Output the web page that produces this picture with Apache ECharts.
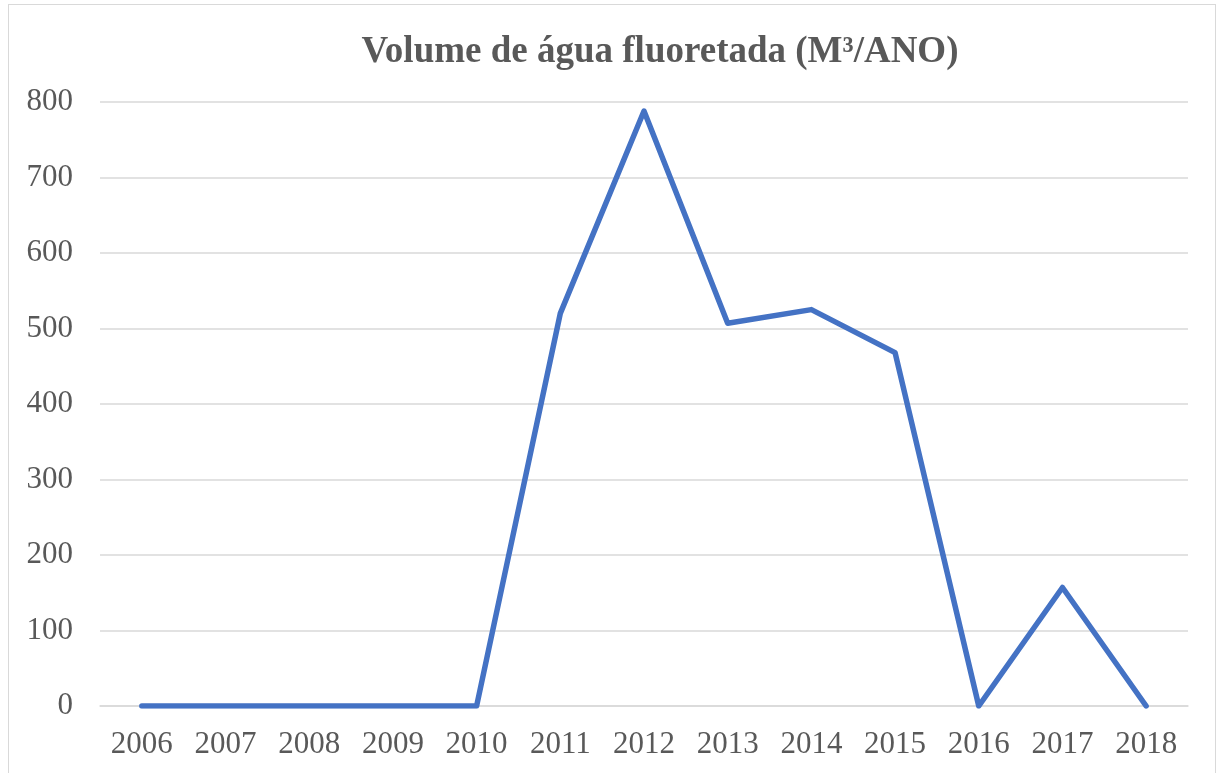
<!DOCTYPE html>
<html style="height: 100%">
<head>
  <meta charset="utf-8">
  <script src="https://cdn.jsdelivr.net/npm/echarts@6/dist/echarts.min.js"></script>
</head>
<body style="height: 100%; margin: 0; background: #fff">
  <div id="frame" style="position:absolute; left:8px; top:4px; width:1208px; height:780px; border:1.5px solid #d9d9d9; box-sizing:border-box;"></div>
  <div id="container" style="position:absolute; left:0; top:0; width:1216px; height:773px;"></div>
  <script type="text/javascript">
    var years = ['2006', '2007', '2008', '2009', '2010', '2011', '2012', '2013', '2014', '2015', '2016', '2017', '2018'];
    var volume = [0, 0, 0, 0, 0, 520, 788, 507, 525, 468, 0, 157, 0];
    var yTicks = [0, 100, 200, 300, 400, 500, 600, 700, 800];

    var chart = echarts.init(document.getElementById('container'));
    var option = {
      animation: false,
      title: {
        text: 'Volume de água fluoretada (M³/ANO)',
        left: 655,
        textAlign: 'center',
        top: 29,
        textStyle: {
          fontFamily: 'Liberation Serif',
          fontSize: 37,
          fontWeight: 'bold',
          color: '#595959'
        }
      },
      grid: { left: 100, right: 28, top: 102, bottom: 67 },
      xAxis: {
        type: 'category',
        data: years,
        boundaryGap: true,
        axisLine: { lineStyle: { color: '#d9d9d9', width: 1.5 } },
        axisTick: { show: false },
        axisLabel: {
          fontFamily: 'Liberation Serif',
          fontSize: 31,
          color: '#595959',
          margin: 23
        }
      },
      yAxis: {
        type: 'value',
        min: yTicks[0],
        max: yTicks[yTicks.length - 1],
        interval: 100,
        axisLine: { show: false },
        axisTick: { show: false },
        splitLine: { lineStyle: { color: '#d9d9d9', width: 1.5 } },
        axisLabel: {
          fontFamily: 'Liberation Serif',
          fontSize: 31,
          color: '#595959',
          margin: 27
        }
      },
      series: [{
        type: 'line',
        data: volume,
        symbol: 'none',
        lineStyle: { color: '#4472C4', width: 5.5, join: 'round', cap: 'round' }
      }]
    };
    chart.setOption(option);
  </script>
</body>
</html>
